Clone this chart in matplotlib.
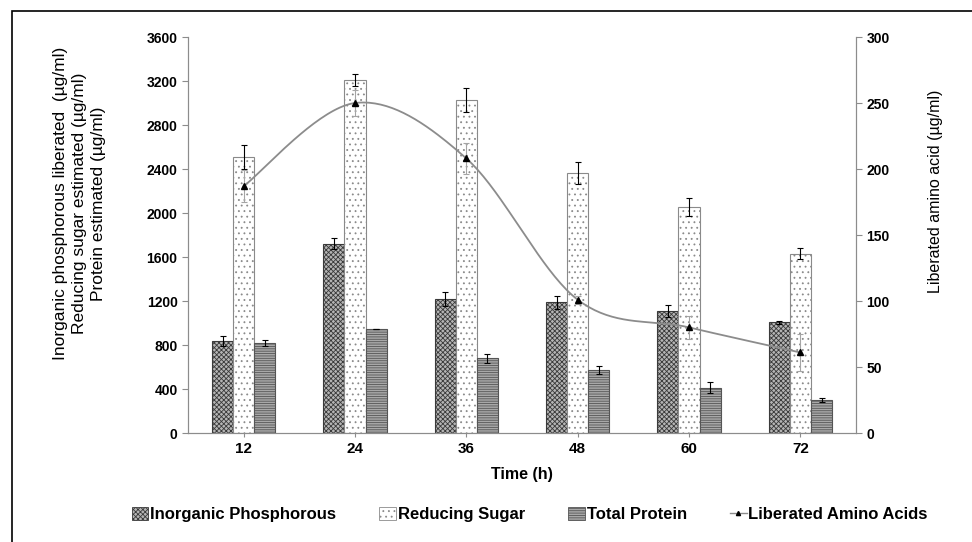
import numpy as np
import matplotlib
matplotlib.use('Agg')
import matplotlib.pyplot as plt
from matplotlib.patches import Patch, Rectangle
from matplotlib.lines import Line2D

plt.rcParams['font.family'] = ['Liberation Sans', 'DejaVu Sans']
plt.rcParams['hatch.linewidth'] = 0.6

# Data
time_labels = ['12', '24', '36', '48', '60', '72']
phosphorous = [840, 1720, 1220, 1190, 1110, 1005]
phosphorous_err = [45, 50, 65, 60, 55, 15]
sugar = [2510, 3210, 3030, 2360, 2055, 1630]
sugar_err = [110, 55, 110, 100, 85, 50]
protein = [820, 950, 680, 570, 410, 300]
protein_err = [30, 0, 40, 35, 50, 20]
amino = [187, 250, 208, 101, 80, 61]
amino_err = [12, 10, 11.5, 3, 9, 14]


def catmull_rom(x, y, n=40):
    """Smooth curve through points (Excel-like smoothed line)"""
    x = np.asarray(x, float)
    y = np.asarray(y, float)
    px = np.concatenate([[x[0]], x, [x[-1]]])
    py = np.concatenate([[y[0]], y, [y[-1]]])
    xs, ys = [], []
    t = np.linspace(0, 1, n)
    for i in range(1, len(px) - 2):
        for p, out in ((px, xs), (py, ys)):
            p0, p1, p2, p3 = p[i - 1], p[i], p[i + 1], p[i + 2]
            out.extend(0.5 * ((2 * p1) + (-p0 + p2) * t +
                              (2 * p0 - 5 * p1 + 4 * p2 - p3) * t ** 2 +
                              (-p0 + 3 * p1 - 3 * p2 + p3) * t ** 3))
    return np.array(xs), np.array(ys)


fig = plt.figure(figsize=(9.72, 5.42), dpi=100)
ax = fig.add_axes([0.1934, 0.2011, 0.6873, 0.7306])
ax2 = ax.twinx()

x = np.arange(len(time_labels))
w = 0.19
err_kw = dict(ecolor='black', elinewidth=0.8, capsize=2.5, capthick=0.8)

ax.bar(x - w, phosphorous, w, yerr=phosphorous_err, color='#b5b5b5',
       edgecolor='#3a3a3a', hatch='xxxxxxx', linewidth=0.8, error_kw=err_kw)
ax.bar(x, sugar, w, yerr=sugar_err, color='white', edgecolor='#8a8a8a',
       hatch='...', linewidth=0.8, error_kw=err_kw)
ax.bar(x + w, protein, w, yerr=protein_err, color='#a8a8a8',
       edgecolor='#555555', hatch='-------', linewidth=0.8, error_kw=err_kw)

# Liberated amino acids on the secondary axis
sx, sy = catmull_rom(x, amino)
ax2.plot(sx, sy, color='#8c8c8c', linewidth=1.3)
ax2.errorbar(x, amino, yerr=amino_err, fmt='none', ecolor='#a5a5a5',
             elinewidth=0.8, capsize=2.5, capthick=0.8)
ax2.plot(x, amino, linestyle='none', marker='^', color='black', markersize=4)

ax.set_xlim(-0.5, len(x) - 0.5)
ax.set_ylim(0, 3600)
ax.set_yticks(np.arange(0, 3601, 400))
ax2.set_ylim(0, 300)
ax2.set_yticks(np.arange(0, 301, 50))
ax.set_xticks(x)
ax.set_xticklabels(time_labels)

for a in (ax, ax2):
    a.spines['top'].set_visible(False)
    for s in ('left', 'right', 'bottom'):
        a.spines[s].set_color('#8c8c8c')
    a.tick_params(colors='#8c8c8c', labelcolor='black', length=4, width=0.8)
ax.tick_params(axis='y', labelsize=10)
ax2.tick_params(axis='y', labelsize=10)
ax.tick_params(axis='x', labelsize=11, length=3)
for lab in ax.get_xticklabels() + ax.get_yticklabels() + ax2.get_yticklabels():
    lab.set_fontweight('bold')

ax.set_ylabel('Inorganic phosphorous liberated  (µg/ml)\n'
              'Reducing sugar estimated (µg/ml)\n'
              'Protein estimated (µg/ml)',
              fontsize=12.5, linespacing=1.35)
ax.yaxis.set_label_coords(-0.122, 0.58)
ax2.set_ylabel('Liberated amino acid (µg/ml)', fontsize=11.5)
ax2.yaxis.set_label_coords(1.108, 0.61)
ax.set_xlabel('Time (h)', fontsize=11.5, fontweight='bold', labelpad=8)

handles = [
    Patch(facecolor='#b5b5b5', edgecolor='#3a3a3a', hatch='xxxxxxx', linewidth=0.6),
    Patch(facecolor='white', edgecolor='#8a8a8a', hatch='...', linewidth=0.6),
    Patch(facecolor='#a8a8a8', edgecolor='#555555', hatch='-------', linewidth=0.6),
    Line2D([], [], color='#8c8c8c', marker='^', markerfacecolor='black',
           markeredgecolor='black', markersize=3, linewidth=1),
]
labels = ['Inorganic Phosphorous', 'Reducing Sugar', 'Total Protein',
          'Liberated Amino Acids']
fig.legend(handles, labels, loc='center', bbox_to_anchor=(0.545, 0.05),
           ncol=4, frameon=False, handlelength=1.0, handleheight=0.8,
           handletextpad=0.1, columnspacing=2.6,
           prop={'weight': 'bold', 'size': 12})

# Outer frame (only left and top visible in the reference crop)
fig.patches.append(Rectangle((12 / 972, -0.1), 1.2, 1 - 11 / 542 + 0.1,
                             transform=fig.transFigure, fill=False,
                             edgecolor='black', linewidth=1.2))

fig.savefig('out.png', dpi=100)
